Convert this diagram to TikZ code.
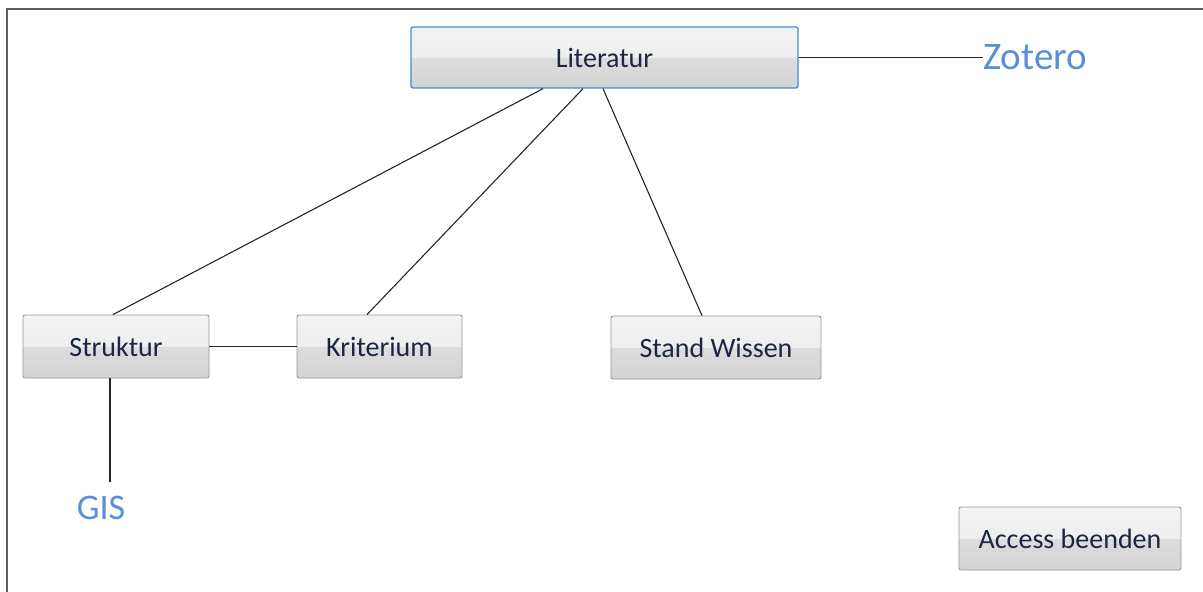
\documentclass[tikz,border=0pt]{standalone}
\usepackage{fontspec}
\setmainfont{Carlito}
\definecolor{boxtopA}{RGB}{243,243,243}
\definecolor{boxtopB}{RGB}{234,234,234}
\definecolor{boxbotA}{RGB}{221,221,221}
\definecolor{boxbotB}{RGB}{211,211,211}
\definecolor{boxline}{RGB}{150,150,150}
\definecolor{txtnavy}{RGB}{28,38,66}
\definecolor{linkblue}{RGB}{88,143,214}
\definecolor{selblue}{RGB}{70,140,205}
\definecolor{framegray}{RGB}{95,95,95}
\tikzset{
  btn/.style={draw=boxline, line width=0.9pt, rounded corners=2pt, inner sep=0pt,
    font=\fontsize{28}{30}\selectfont, text=txtnavy,
    path picture={
      \shade[top color=boxtopA, bottom color=boxtopB] (path picture bounding box.north west) rectangle (path picture bounding box.east);
      \shade[top color=boxbotA, bottom color=boxbotB] (path picture bounding box.west) rectangle (path picture bounding box.south east);
    }},
  conn/.style={draw=black!85, line width=1.1pt},
  linktext/.style={inner sep=0pt, text=linkblue},
}
\begin{document}
\begin{tikzpicture}[x=1pt,y=-1pt]
\useasboundingbox (0,0) rectangle (1203,592);
% frame
\draw[framegray, line width=2pt] (6.5,592) -- (6.5,8.5) -- (1203,8.5);
% buttons
\node[btn, draw=selblue, line width=1.3pt, minimum width=387pt, minimum height=61pt] (lit) at (604.5,57.5) {Literatur};
\node[btn, minimum width=186pt, minimum height=63pt] (str) at (116,346.5) {Struktur};
\node[btn, minimum width=165pt, minimum height=63pt] (kri) at (379.5,346.5) {Kriterium};
\node[btn, minimum width=210pt, minimum height=63pt] (sw) at (716,347.5) {Stand Wissen};
\node[btn, minimum width=222pt, minimum height=63pt] (acc) at (1070,538.5) {Access beenden};
% link labels
\node[linktext, anchor=west, font=\fontsize{39}{41}\selectfont] (zot) at (983,57.5) {Zotero};
\node[linktext, font=\fontsize{36}{38}\selectfont] (gis) at (101,507.5) {GIS};
\coordinate (gisend) at (110,482);
% connectors
\draw[conn] ([xshift=-61.5pt]lit.south) -- ([xshift=-3pt]str.north);
\draw[conn] ([xshift=-21.5pt]lit.south) -- ([xshift=-12.5pt]kri.north);
\draw[conn] ([xshift=-1.5pt]lit.south) -- ([xshift=-14pt]sw.north);
\draw[conn] (lit.east) -- (zot.west);
\draw[conn] (str.east) -- (kri.west);
\draw[conn] ([xshift=-6pt]str.south) -- (gisend);
\end{tikzpicture}
\end{document}
